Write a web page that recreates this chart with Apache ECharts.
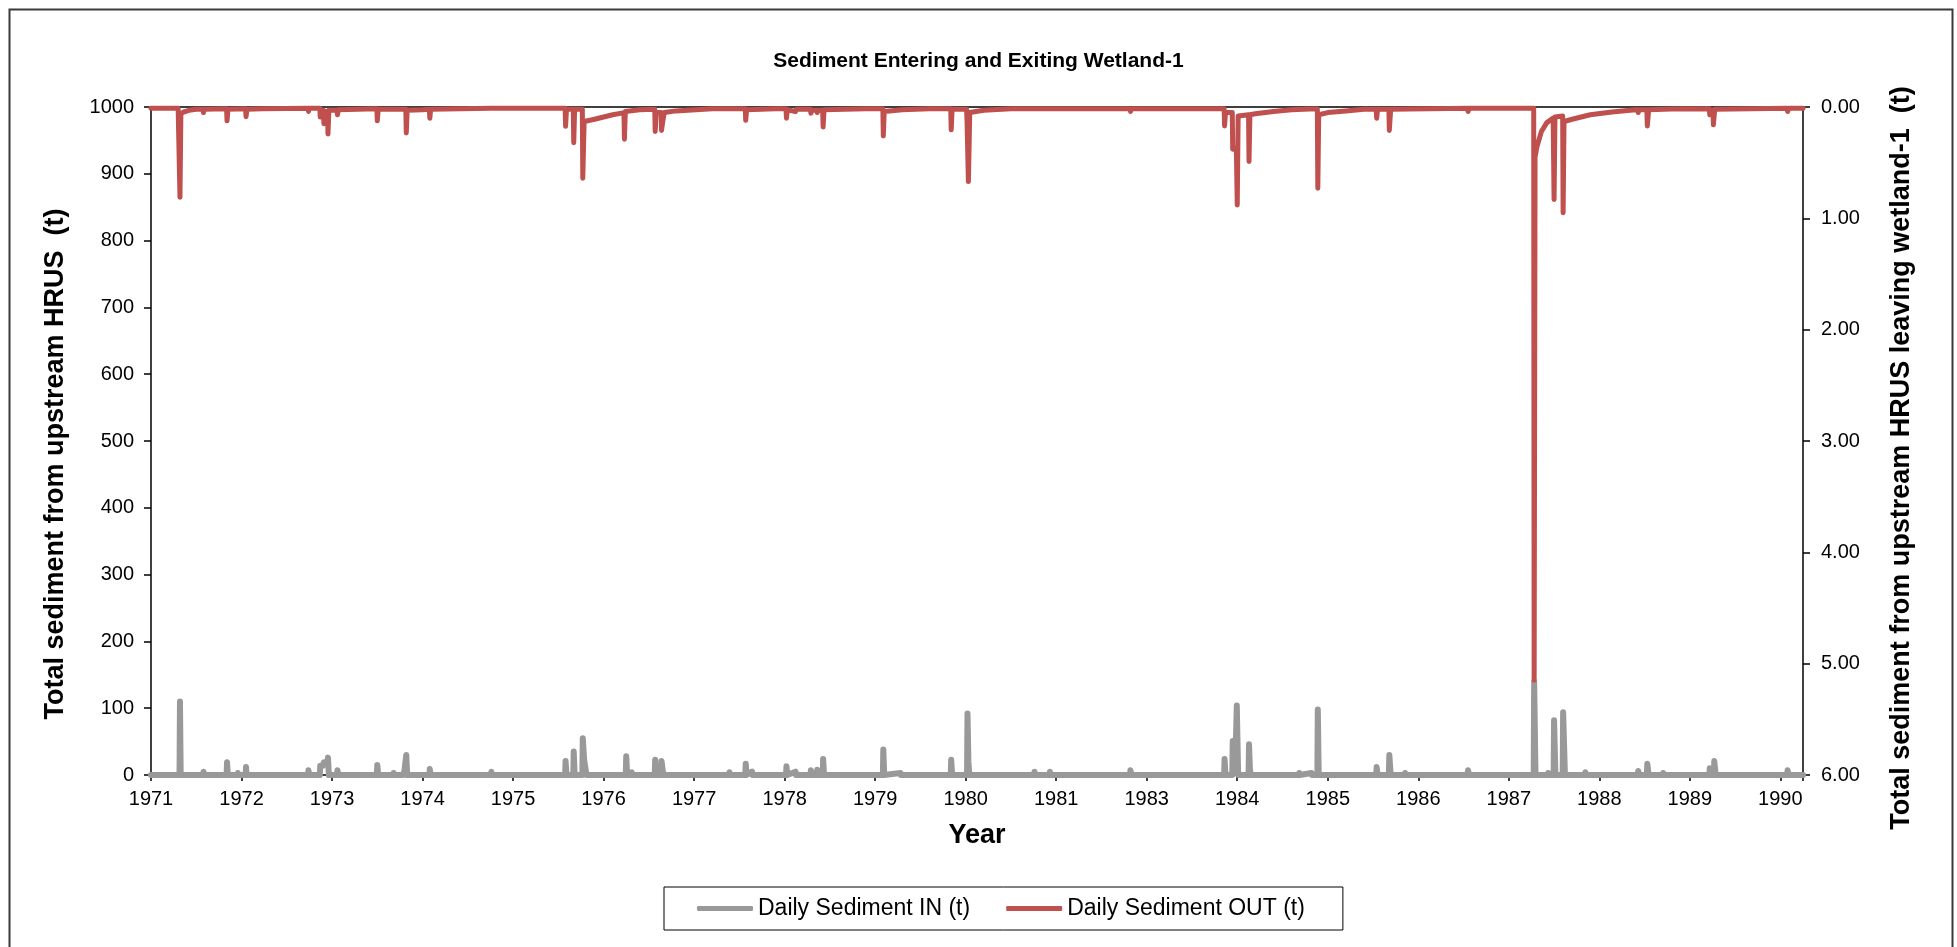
<!DOCTYPE html>
<html>
<head>
<meta charset="utf-8">
<script src="https://cdn.jsdelivr.net/npm/echarts@6/dist/echarts.min.js"></script>
<style>
html,body{margin:0;padding:0;background:#fff;}
#chart{width:1957px;height:947px;}
</style>
</head>
<body>
<div id="chart"></div>
<script>
// x positions are in axis-tick units: 0 = first tick label, 1 = next tick label, ...
const tickLabels = ['1971','1972','1973','1974','1975','1976','1977','1978','1979','1980',
                    '1981','1983','1984','1985','1986','1987','1988','1989','1990'];

// Daily Sediment IN (t) - left axis
const sedimentIn = [
[0,0],[0.315,0],[0.32,110],[0.328,0],
[0.575,0],[0.58,5],[0.585,0],
[0.835,0],[0.84,19],[0.848,0],
[0.955,0],[0.96,3],[0.965,0],
[1.045,0],[1.05,12],[1.056,0],
[1.225,0],[1.23,2],[1.235,0],
[1.735,0],[1.74,7],[1.746,0],
[1.865,0],[1.87,14],[1.9,14],[1.91,19],[1.95,19],[1.955,26],[1.965,0],
[2.055,0],[2.06,7],[2.07,0],
[2.495,0],[2.5,15],[2.51,0],
[2.675,0],[2.68,3],[2.685,0],
[2.79,0],[2.8,7],[2.815,7],[2.82,30],[2.83,0],
[3.075,0],[3.08,9],[3.088,0],
[3.755,0],[3.76,5],[3.765,0],
[4.325,0],[4.33,2],[4.335,0],
[4.575,0],[4.58,21],[4.59,0],
[4.665,0],[4.67,35],[4.68,0],
[4.765,0],[4.77,55],[4.78,53],[4.785,23],[4.8,23],[4.81,0],
[5.245,0],[5.25,28],[5.26,0],
[5.305,0],[5.31,4],[5.315,0],
[5.565,0],[5.57,23],[5.58,0],[5.635,0],[5.64,21],[5.65,10],[5.66,0],
[6.385,0],[6.39,4],[6.395,0],
[6.565,0],[6.57,17],[6.58,0],[6.64,5],[6.645,0],
[7.015,0],[7.02,13],[7.03,0],[7.12,5],[7.125,0],
[7.285,0],[7.29,7],[7.3,0],[7.355,0],[7.36,8],[7.37,0],[7.42,0],[7.425,24],[7.435,0],
[8.085,0],[8.09,38],[8.1,0],[8.28,3],[8.285,0],
[8.835,0],[8.84,23],[8.85,0],
[9.015,0],[9.02,92],[9.03,20],[9.04,0],
[9.755,0],[9.76,5],[9.765,0],
[9.925,0],[9.93,5],[9.935,0],
[10.195,0],[10.2,2],[10.205,0],
[10.815,0],[10.82,7],[10.83,0],
[11.855,0],[11.86,24],[11.87,0],
[11.945,0],[11.95,51],[11.985,50],[11.995,104],[12.01,0],
[12.125,0],[12.13,46],[12.14,9],[12.15,0],
[12.68,0],[12.685,3],[12.69,0],[12.82,3],[12.825,0],
[12.885,0],[12.89,98],[12.9,0],
[13.535,0],[13.54,12],[13.55,0],
[13.675,0],[13.68,30],[13.695,0],
[13.85,0],[13.855,3],[13.86,0],
[14.545,0],[14.55,7],[14.56,0],
[14.8,0],[14.805,2],[14.81,0],
[15.275,0],[15.28,140],[15.295,0],
[15.43,0],[15.435,3],[15.44,0],
[15.495,0],[15.5,82],[15.515,0],
[15.595,0],[15.6,94],[15.62,0],
[15.84,0],[15.845,4],[15.85,0],
[16.425,0],[16.43,6],[16.44,0],
[16.525,0],[16.53,17],[16.545,0],
[16.7,0],[16.705,3],[16.71,0],
[16.89,0],[16.895,2],[16.9,0],
[17.215,0],[17.22,10],[17.23,0],[17.265,0],[17.27,21],[17.285,0],
[18.075,0],[18.08,7],[18.09,0],
[18.25,0]
];

// Daily Sediment OUT (t) - right (inverted) axis
const sedimentOut = [
[0,0.012],[0.3,0.012],
[0.315,0.015],[0.32,0.81],[0.33,0.06],[0.36,0.045],[0.42,0.03],[0.5,0.02],
[0.575,0.02],[0.58,0.05],[0.585,0.02],
[0.835,0.015],[0.84,0.124],[0.85,0.02],
[1.045,0.015],[1.05,0.087],[1.06,0.02],
[1.23,0.015],[1.735,0.012],[1.74,0.04],[1.745,0.012],
[1.865,0.012],[1.87,0.09],[1.875,0.03],[1.905,0.03],[1.91,0.15],[1.915,0.04],[1.95,0.04],[1.955,0.243],[1.965,0.03],
[2.055,0.03],[2.06,0.07],[2.07,0.025],
[2.495,0.015],[2.5,0.124],[2.51,0.02],
[2.815,0.02],[2.82,0.233],[2.83,0.03],[3.0,0.025],
[3.075,0.02],[3.08,0.10],[3.09,0.02],
[3.755,0.012],[3.76,0.025],[3.765,0.012],
[4.575,0.012],[4.58,0.174],[4.59,0.02],
[4.665,0.02],[4.67,0.32],[4.68,0.02],
[4.765,0.02],[4.77,0.64],[4.785,0.13],[4.9,0.11],[5.0,0.09],[5.1,0.07],[5.2,0.055],
[5.225,0.055],[5.23,0.29],[5.24,0.04],[5.4,0.025],
[5.565,0.02],[5.57,0.22],[5.58,0.05],[5.635,0.05],[5.64,0.21],[5.65,0.15],[5.67,0.05],[5.8,0.035],[6.2,0.015],
[6.565,0.015],[6.57,0.12],[6.58,0.025],[6.9,0.015],
[7.015,0.015],[7.02,0.10],[7.03,0.025],[7.12,0.04],[7.13,0.02],
[7.285,0.02],[7.29,0.055],[7.3,0.03],[7.355,0.03],[7.36,0.05],[7.37,0.03],[7.42,0.03],[7.425,0.18],[7.435,0.025],[7.9,0.015],
[8.085,0.015],[8.09,0.26],[8.1,0.04],[8.3,0.025],[8.6,0.015],
[8.835,0.015],[8.84,0.205],[8.85,0.02],
[9.01,0.02],[9.015,0.13],[9.03,0.67],[9.045,0.05],[9.2,0.03],[9.5,0.015],
[9.755,0.015],[9.76,0.025],[9.765,0.015],
[9.925,0.015],[9.93,0.025],[9.935,0.015],
[10.815,0.015],[10.82,0.04],[10.83,0.015],
[11.855,0.015],[11.86,0.17],[11.87,0.05],[11.945,0.05],[11.95,0.38],[11.99,0.37],[12.0,0.88],[12.01,0.08],
[12.125,0.07],[12.13,0.49],[12.14,0.07],[12.2,0.06],[12.4,0.04],[12.6,0.025],[12.8,0.018],
[12.885,0.018],[12.89,0.73],[12.9,0.07],[13.0,0.05],[13.2,0.035],[13.4,0.02],
[13.535,0.02],[13.54,0.10],[13.55,0.02],
[13.675,0.02],[13.68,0.21],[13.695,0.02],
[14.545,0.012],[14.55,0.04],[14.56,0.012],
[15.275,0.012],[15.28,5.15],[15.29,0.45],[15.31,0.36],[15.36,0.22],[15.42,0.14],[15.49,0.1],
[15.495,0.1],[15.5,0.83],[15.51,0.09],[15.53,0.08],
[15.595,0.08],[15.6,0.95],[15.61,0.13],[15.7,0.11],[15.9,0.07],[16.14,0.045],[16.4,0.025],
[16.425,0.025],[16.43,0.05],[16.44,0.025],
[16.525,0.025],[16.53,0.17],[16.545,0.025],[16.8,0.018],
[17.215,0.015],[17.22,0.07],[17.23,0.03],[17.255,0.03],[17.26,0.16],[17.275,0.02],
[18.075,0.012],[18.08,0.04],[18.09,0.012],[18.25,0.012]
];

const FONT = '"Liberation Sans", Arial, sans-serif';
const chart = echarts.init(document.getElementById('chart'));
chart.setOption({
  animation: false,
  backgroundColor: '#ffffff',
  title: {
    text: 'Sediment Entering and Exiting Wetland-1',
    left: 'center',
    top: 46,
    textStyle: {fontFamily: FONT, fontSize: 21, fontWeight: 'bold', color: '#000'}
  },
  legend: {
    left: 664, top: 887,
    padding: [10, 38, 10, 33],
    itemGap: 36,
    itemWidth: 56, itemHeight: 5,
    icon: 'roundRect',
    borderColor: '#000', borderWidth: 1,
    textStyle: {fontFamily: FONT, fontSize: 23, color: '#000'},
    data: ['Daily Sediment IN (t)', 'Daily Sediment OUT (t)']
  },
  grid: {left: 151, right: 154, top: 107, bottom: 172},
  xAxis: [{
    type: 'value', min: 0, max: 18.25, interval: 1,
    position: 'bottom',
    name: 'Year', nameLocation: 'middle', nameGap: 47,
    nameTextStyle: {fontFamily: FONT, fontSize: 27, fontWeight: 'bold', color: '#000'},
    axisLine: {onZero: false, lineStyle: {color: '#000', width: 1.5}},
    axisTick: {length: 6, lineStyle: {color: '#000', width: 1.5}},
    axisLabel: {
      margin: 14, fontFamily: FONT, fontSize: 20, color: '#000',
      formatter: v => (Math.abs(v - Math.round(v)) < 1e-6 && tickLabels[Math.round(v)]) ? tickLabels[Math.round(v)] : ''
    },
    splitLine: {show: false}
  }, {
    type: 'value', min: 0, max: 18.25, interval: 1,
    position: 'top',
    axisLine: {onZero: false, lineStyle: {color: '#000', width: 1.5}},
    axisTick: {show: false}, axisLabel: {show: false}, splitLine: {show: false}
  }],
  yAxis: [{
    type: 'value', min: 0, max: 1000, interval: 100,
    position: 'left',
    name: 'Total sediment from upstream HRUS  (t)',
    nameLocation: 'middle', nameGap: 82,
    nameTextStyle: {fontFamily: FONT, fontSize: 27, fontWeight: 'bold', color: '#000', padding: [0, 46, 0, 0]},
    axisLine: {show: true, onZero: false, lineStyle: {color: '#000', width: 1.5}},
    axisTick: {show: true, length: 7, lineStyle: {color: '#000', width: 1.5}},
    axisLabel: {margin: 17, fontFamily: FONT, fontSize: 20, color: '#000', formatter: v => String(v)},
    splitLine: {show: false}
  }, {
    type: 'value', min: 0, max: 6, interval: 1, inverse: true,
    position: 'right',
    name: 'Total sediment from upstream HRUS leaving wetland-1  (t)',
    nameLocation: 'middle', nameGap: 85,
    nameTextStyle: {fontFamily: FONT, fontSize: 27, fontWeight: 'bold', color: '#000', padding: [0, 34, 0, 0]},
    axisLine: {show: true, onZero: false, lineStyle: {color: '#000', width: 1.5}},
    axisTick: {show: true, length: 7, lineStyle: {color: '#000', width: 1.5}},
    axisLabel: {margin: 18, fontFamily: FONT, fontSize: 20, color: '#000', formatter: v => v.toFixed(2)},
    splitLine: {show: false}
  }],
  series: [{
    name: 'Daily Sediment IN (t)',
    type: 'line', xAxisIndex: 0, yAxisIndex: 0,
    data: sedimentIn, showSymbol: false, symbol: 'none',
    lineStyle: {color: '#999999', width: 6, cap: 'round', join: 'round'},
    itemStyle: {color: '#999999'}
  }, {
    name: 'Daily Sediment OUT (t)',
    type: 'line', xAxisIndex: 0, yAxisIndex: 1,
    data: sedimentOut, showSymbol: false, symbol: 'none',
    lineStyle: {color: '#C0504D', width: 5, cap: 'round', join: 'round'},
    itemStyle: {color: '#C0504D'}
  }],
  graphic: [{
    type: 'rect', left: 7, top: 7, silent: true,
    shape: {x: 0, y: 0, width: 1943, height: 1000},
    style: {fill: 'none', stroke: '#3a3a3a', lineWidth: 2}
  }]
});
</script>
</body>
</html>
